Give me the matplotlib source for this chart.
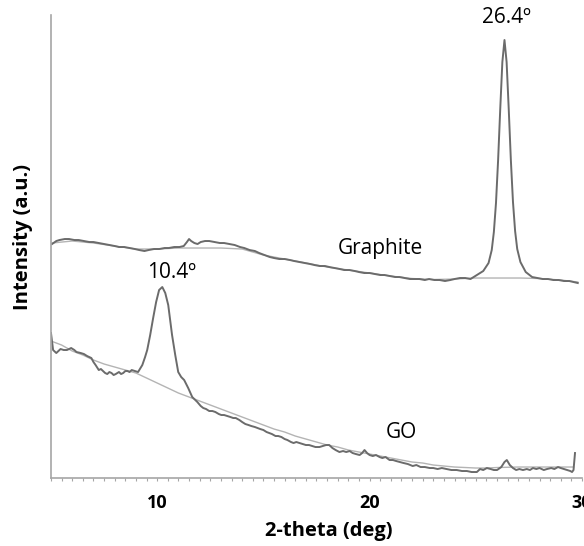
import numpy as np
import matplotlib
matplotlib.use("Agg")
import matplotlib.pyplot as plt
from matplotlib.ticker import MultipleLocator

plt.rcParams['font.family'] = ['Open Sans', 'DejaVu Sans']

# graphite pattern (2-theta in deg, intensity in a.u.)
graphite_2theta = [5.05, 5.25, 5.4, 5.65, 5.85, 6.1, 6.3, 6.55, 6.8, 7.0, 7.25, 7.5, 7.75, 8.0, 8.2,
                   8.45, 8.7, 8.95, 9.15, 9.4, 9.6, 9.85, 10.1, 10.35, 10.55, 10.8, 11.05, 11.25, 11.4,
                   11.5, 11.6, 11.75, 11.9, 12.05, 12.25, 12.45, 12.7, 12.95, 13.15, 13.4, 13.65, 13.9,
                   14.1, 14.35, 14.6, 14.8, 15.05, 15.3, 15.5, 15.75, 16.0, 16.25, 16.45, 16.7, 16.95,
                   17.2, 17.4, 17.65, 17.9, 18.1, 18.35, 18.6, 18.8, 19.05, 19.3, 19.5, 19.75, 20.0,
                   20.25, 20.5, 20.7, 20.95, 21.2, 21.4, 21.65, 21.9, 22.1, 22.35, 22.6, 22.8, 23.05,
                   23.3, 23.55, 23.8, 24.0, 24.25, 24.5, 24.75, 25.05, 25.35, 25.6, 25.75, 25.85, 25.95,
                   26.05, 26.15, 26.25, 26.35, 26.45, 26.55, 26.65, 26.75, 26.85, 26.95, 27.1, 27.35,
                   27.65, 27.9, 28.15, 28.4, 28.65, 28.9, 29.15, 29.4, 29.6, 29.8]
graphite_int = [234, 237, 238, 239, 239, 238, 238, 237, 236, 236, 235, 234, 233, 232, 231,
                231, 230, 229, 228, 227, 228, 229, 229, 230, 230, 231, 231, 232, 236,
                239, 237, 235, 234, 236, 237, 237, 236, 235, 235, 234, 233, 231,
                230, 228, 227, 225, 223, 221, 220, 219, 219, 218, 217, 216, 215,
                214, 213, 212, 212, 211, 210, 209, 208, 208, 207, 206, 205, 205,
                204, 203, 203, 202, 201, 201, 200, 199, 199, 199, 198, 199, 198,
                198, 197, 198, 199, 200, 200, 199, 203, 207, 215, 228, 246, 275,
                318, 369, 416, 438, 416, 369, 318, 276, 247, 229, 216, 206,
                201, 200, 199, 199, 198, 198, 197, 197, 196, 195]

graphite_bg_2theta = [5.05, 6, 7, 8, 9, 10, 11, 12, 13, 14, 15, 16, 17, 18, 19, 20, 21, 22, 23,
                      24, 24.9, 27.1, 28, 29, 29.8]
graphite_bg_int = [235, 237, 235, 232, 229, 229, 230, 230, 230, 229, 223, 219, 215, 211, 208,
                   205, 202, 199.5, 198.5, 199, 200, 200, 199.5, 198, 196]

# graphene oxide pattern
go_2theta = [5.0, 5.1, 5.25, 5.45, 5.6, 5.75, 5.95, 6.1, 6.2, 6.4, 6.55, 6.7, 6.9, 7.0, 7.1, 7.25,
             7.35, 7.45, 7.55, 7.65, 7.75, 7.85, 7.95, 8.05, 8.2, 8.3, 8.4, 8.5, 8.6, 8.7, 8.8,
             8.95, 9.1, 9.3, 9.43, 9.53, 9.67, 9.81, 9.95, 10.09, 10.24, 10.38, 10.52, 10.61,
             10.7, 10.85, 10.99, 11.13, 11.27, 11.46, 11.65, 11.89, 12.05, 12.17, 12.3, 12.45,
             12.6, 12.74, 12.9, 13.02, 13.15, 13.3, 13.45, 13.58, 13.7, 13.87, 14.0, 14.15,
             14.3, 14.43, 14.6, 14.72, 14.85, 15.0, 15.15, 15.28, 15.4, 15.57, 15.7, 15.85,
             16.0, 16.13, 16.3, 16.42, 16.55, 16.7, 16.85, 17.0, 17.15, 17.3, 17.45, 17.64,
             17.8, 17.95, 18.1, 18.25, 18.4, 18.58, 18.75, 18.9, 19.06, 19.2, 19.35, 19.53,
             19.65, 19.76, 19.88, 20.0, 20.15, 20.3, 20.47, 20.6, 20.75, 20.94, 21.1, 21.25,
             21.42, 21.6, 21.8, 22.03, 22.2, 22.4, 22.6, 22.83, 23.0, 23.2, 23.4, 23.63, 23.85,
             24.1, 24.35, 24.58, 24.8, 25.05, 25.2, 25.35, 25.52, 25.7, 25.85, 26.0, 26.2,
             26.35, 26.46, 26.6, 26.75, 26.9, 27.05, 27.22, 27.4, 27.55, 27.69, 27.85, 28.0,
             28.2, 28.35, 28.55, 28.7, 28.87, 29.0, 29.15, 29.3, 29.45, 29.53, 29.6, 29.67]
go_int = [145, 128, 125, 129, 128, 128, 130, 128, 126, 125, 124, 122, 120, 116, 113, 108,
          109, 107, 105, 104, 106, 105, 103, 104, 106, 104, 105, 107, 107, 106, 108,
          107, 106, 113, 121, 128, 143, 160, 176, 188, 191, 185, 173, 158,
          143, 123, 106, 101, 98, 90, 81, 76, 72, 70, 69, 67,
          67, 66, 64, 63, 63, 62, 61, 60, 60, 58, 56, 54,
          53, 52, 51, 50, 49, 48, 46, 45, 44, 42, 42, 41,
          39, 38, 36, 35, 36, 35, 34, 33, 33, 32, 31, 31,
          32, 33, 33, 30, 28, 26, 27, 26, 27, 25, 24, 23,
          25, 28, 25, 23, 22, 23, 21, 20, 21, 18, 18, 17,
          16, 15, 14, 12, 13, 11, 11, 10, 10, 9, 10, 9, 8,
          8, 7, 7, 6, 6, 9, 8, 10, 9, 8, 8, 11,
          16, 18, 13, 10, 8, 9, 8, 9, 8, 10, 9, 10,
          8, 9, 10, 9, 11, 10, 9, 8, 7, 6, 8, 25]

go_bg_2theta = [5.0, 5.5, 6.0, 6.5, 7.0, 7.5, 8.0, 8.5, 9.0, 9.5, 10.0, 10.5, 11.0, 11.5, 12.0,
                12.5, 13.0, 13.5, 14.0, 14.5, 15.0, 15.5, 16.0, 16.5, 17.0, 17.5, 18.0, 18.5,
                19.0, 19.5, 20.0, 20.5, 21.0, 21.5, 22.0, 22.5, 23.0, 23.5, 24.0, 24.5, 25.0,
                25.5, 26.0, 27.0, 28.0, 29.0, 29.6]
go_bg_int = [137, 133, 127, 123, 118, 114, 111, 108, 105, 100, 95, 90, 85, 81, 77,
             73, 69, 65, 61, 57, 53, 49, 46, 42, 39, 36, 33, 31,
             28, 26, 24, 22, 20, 18, 16, 15, 13, 12, 11, 10.5, 10,
             10, 10.5, 11, 11, 11, 11]

DATA_COLOR = '#6b6b6b'
BG_COLOR = '#b4b4b4'
AXIS_COLOR = '#a6a6a6'

fig = plt.figure(figsize=(5.84, 5.46), dpi=100)
ax = fig.add_axes([0.0873, 0.1245, 0.9093, 0.848])

ax.plot(graphite_bg_2theta, graphite_bg_int, color=BG_COLOR, lw=1.0)
ax.plot(go_bg_2theta, go_bg_int, color=BG_COLOR, lw=1.0)
ax.plot(graphite_2theta, graphite_int, color=DATA_COLOR, lw=1.4)
ax.plot(go_2theta, go_int, color=DATA_COLOR, lw=1.4)

ax.set_xlim(5, 30)
ax.set_ylim(0, 463)

for side in ['top', 'right']:
    ax.spines[side].set_visible(False)
for side in ['left', 'bottom']:
    ax.spines[side].set_color(AXIS_COLOR)
    ax.spines[side].set_linewidth(1.2)

ax.set_yticks([])
ax.xaxis.set_major_locator(MultipleLocator(10))
ax.xaxis.set_minor_locator(MultipleLocator(0.5))
ax.tick_params(axis='x', which='both', direction='out', length=2.5, width=0.8,
               color=AXIS_COLOR, pad=9)
for lbl in ax.get_xticklabels():
    lbl.set_fontweight('bold')
    lbl.set_fontsize(13)

ax.set_xlabel('2-theta (deg)', fontsize=14.5, fontweight='bold')
ax.xaxis.set_label_coords(0.524, -0.093)
ax.set_ylabel('Intensity (a.u.)', fontsize=14.5, fontweight='bold')
ax.yaxis.set_label_coords(-0.034, 0.52)

ax.text(26.46, 461, '26.4º', fontsize=15, ha='center', va='center', clip_on=False)
ax.text(20.52, 230, 'Graphite', fontsize=15, ha='center', va='center')
ax.text(10.66, 206, '10.4º', fontsize=15, ha='center', va='center')
ax.text(21.5, 46, 'GO', fontsize=15, ha='center', va='center')

fig.savefig('out.png', dpi=100)
